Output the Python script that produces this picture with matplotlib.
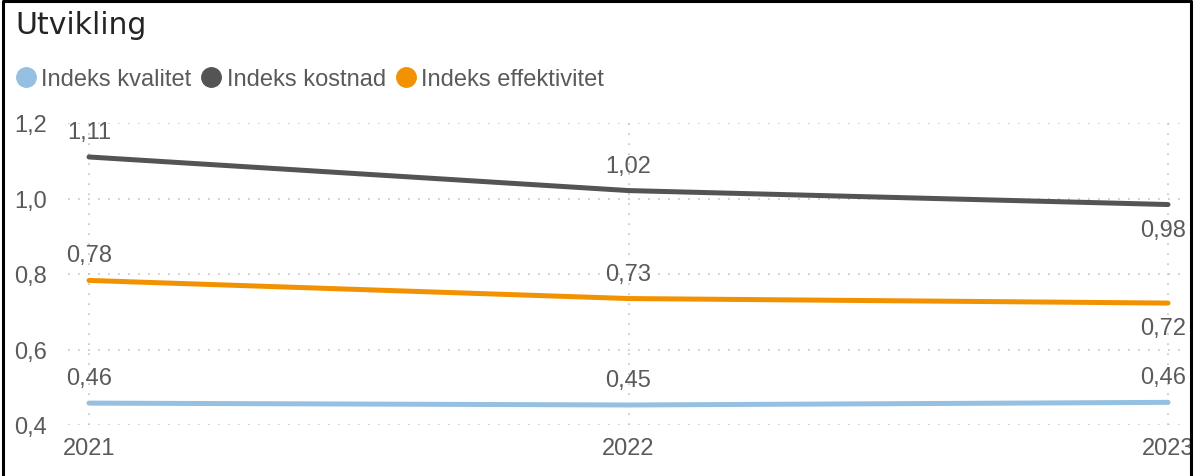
import numpy as np
import matplotlib
matplotlib.use('Agg')
import matplotlib.pyplot as plt
from matplotlib.lines import Line2D

years = [2021, 2022, 2023]
kvalitet = [0.458, 0.453, 0.460]
kostnad = [1.11, 1.021, 0.984]
effektivitet = [0.783, 0.735, 0.723]

labels_kvalitet = ["0,46", "0,45", "0,46"]
labels_kostnad = ["1,11", "1,02", "0,98"]
labels_effektivitet = ["0,78", "0,73", "0,72"]

series_names = ["Indeks kvalitet", "Indeks kostnad", "Indeks effektivitet"]
colors = ["#95C0E1", "#545454", "#F39200"]
text_col = "#5A5A5A"

plt.rcParams['font.family'] = ['Liberation Sans', 'DejaVu Sans']

fig = plt.figure(figsize=(11.94, 4.77), dpi=100)
ax = fig.add_axes([68 / 1194, 51 / 477, 1112 / 1194, 302 / 477])

series = [
    (kvalitet, labels_kvalitet, [1, 1, 1]),
    (kostnad, labels_kostnad, [1, 1, -1]),
    (effektivitet, labels_effektivitet, [1, 1, -1]),
]

# last labels are nudged left so they stay inside the frame
x_nudge = [0, 0, -5]

for (vals, labs, pos), col in zip(series, colors):
    ax.plot(years, vals, color=col, lw=3.6, solid_capstyle='round', zorder=3)
    for x, v, t, p, dx in zip(years, vals, labs, pos, x_nudge):
        ax.annotate(t, (x, v), xytext=(dx, 25 * p), textcoords='offset pixels',
                    ha='center', va='center', fontsize=17, color=text_col,
                    annotation_clip=False)

ax.set_xlim(2021 - 21 / 539.5, 2023 + 12 / 539.5)
ax.set_ylim(0.4, 1.2)
ax.set_xticks(years)
ax.set_xticklabels([str(y) for y in years])
ax.set_yticks([0.4, 0.6, 0.8, 1.0, 1.2])
ax.set_yticklabels(["0,4", "0,6", "0,8", "1,0", "1,2"])
ax.tick_params(axis='both', length=0, labelsize=17, labelcolor=text_col)
ax.tick_params(axis='y', pad=15)
ax.tick_params(axis='x', pad=9)
for s in ax.spines.values():
    s.set_visible(False)
ax.grid(True, color='#C4C4C4', lw=1.2, linestyle=(0, (1, 5)))
ax.set_axisbelow(True)

fig.text(15 / 1194, 1 - 26 / 477, "Utvikling", fontsize=21.5, color='#252423',
         ha='left', va='center', family=['DejaVu Sans'])

handles = [Line2D([], [], marker='o', linestyle='none', markersize=14,
                  markerfacecolor=c, markeredgecolor=c) for c in colors]
fig.legend(handles, series_names, loc='center left',
           bbox_to_anchor=(14 / 1194, 1 - 80 / 477), ncol=3, frameon=False,
           fontsize=17, labelcolor=text_col, handletextpad=0.15,
           columnspacing=0.35, handlelength=1.0, borderaxespad=0, borderpad=0)

# frame around the visual
fig.add_artist(Line2D([3 / 1194, 3 / 1194, 1191 / 1194, 1191 / 1194],
                      [0, 1 - 1.5 / 477, 1 - 1.5 / 477, 0],
                      transform=fig.transFigure, color='black', lw=2.2))

fig.savefig('out.png', dpi=100)
